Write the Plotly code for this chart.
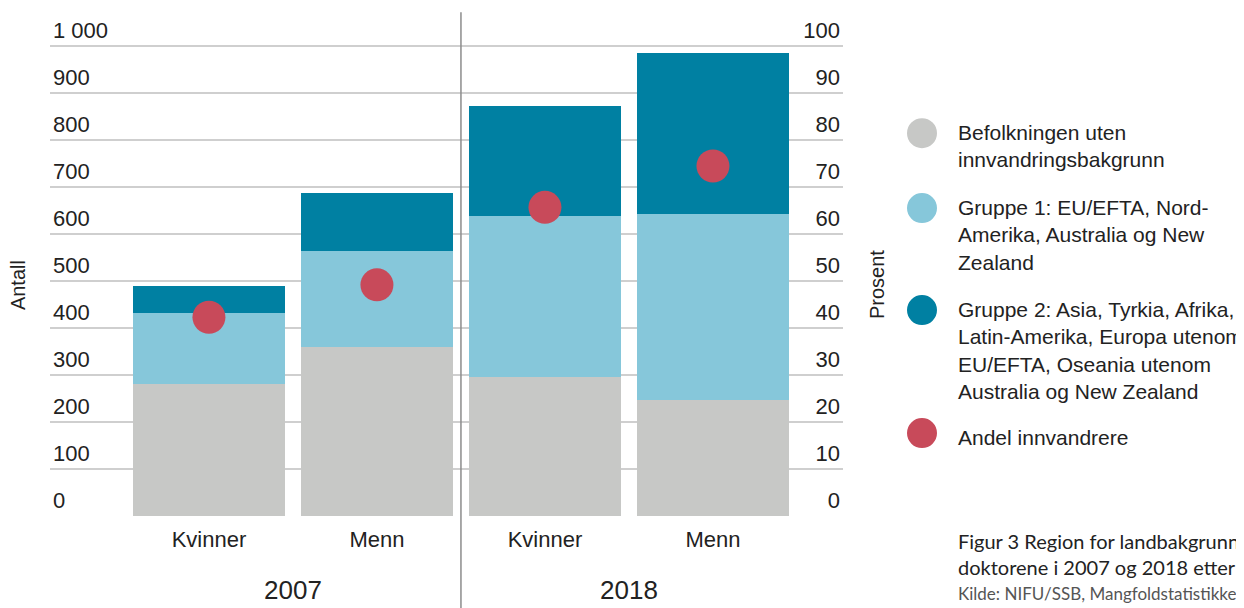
import plotly.graph_objects as go

# data
kjonn = ['Kvinner', 'Menn', 'Kvinner', 'Menn']
aar = ['2007', '2018']
befolkning = [280, 359, 295, 246]
gruppe1 = [153, 206, 343, 396]
gruppe2 = [56, 122, 234, 344]
andel = [42.3, 49.2, 65.7, 74.5]

navn = ['Befolkningen uten<br>innvandringsbakgrunn',
        'Gruppe 1: EU/EFTA, Nord-<br>Amerika, Australia og New<br>Zealand',
        'Gruppe 2: Asia, Tyrkia, Afrika,<br>Latin-Amerika, Europa utenom<br>EU/EFTA, Oseania utenom<br>Australia og New Zealand',
        'Andel innvandrere']
farger = ['#C7C8C6', '#86C7DA', '#0080A2', '#C84A5A']

# siden har 8px body-marg, så alt flyttes 8px opp/venstre
OFF = 8
W, H = 1244, 608
y0px, y1000px = 516 - OFF, 46 - OFF
per = (y0px - y1000px) / 1000.0
ymax = 1060
top = y0px - ymax * per
L = 50 - OFF
T = top
Rpx = 843 - OFF
B = H - y0px
pw, ph = Rpx - L, y0px - top
font = 'Liberation Sans, Arial, sans-serif'


def px(x):
    return (x - OFF - L) / pw


def py(y):
    return (y0px - (y - OFF)) / ph


xs = [0, 1, 2, 3]

fig = go.Figure()
for vals, farge in zip([befolkning, gruppe1, gruppe2], farger[:3]):
    fig.add_trace(go.Bar(x=xs, y=vals, marker=dict(color=farge, line=dict(width=0)),
                         width=0.905, showlegend=False))

fig.add_trace(go.Scatter(x=xs, y=andel, yaxis='y2', mode='markers',
                         marker=dict(color=farger[3], size=33), showlegend=False))

# skillelinje mellom årene
fig.add_shape(type='line', x0=1.5, x1=1.5, xref='x', yref='paper',
              y0=py(H + 8), y1=py(12), line=dict(color='#8c8c8c', width=1.5))

annots = []
for i, a in enumerate(aar):
    annots.append(dict(x=0.5 + 2 * i, y=py(590), xref='x', yref='paper', text=a,
                       showarrow=False, font=dict(size=26, color='#222'), yanchor='middle'))

annots.append(dict(x=px(18), y=py(285), xref='paper', yref='paper', text='Antall',
                   textangle=-90, showarrow=False, xanchor='center', yanchor='middle',
                   font=dict(size=20, color='#222')))
annots.append(dict(x=px(877), y=py(285), xref='paper', yref='paper', text='Prosent',
                   textangle=-90, showarrow=False, xanchor='center', yanchor='middle',
                   font=dict(size=20, color='#222')))

# legende
leg_y = [133, 208, 310, 433]
text_y = [119, 194, 296, 424]
for i in range(4):
    fig.add_shape(type='circle', xref='paper', yref='paper', xsizemode='pixel', ysizemode='pixel',
                  xanchor=px(922), yanchor=py(leg_y[i]), x0=-15, x1=15, y0=-15, y1=15,
                  fillcolor=farger[i], line=dict(width=0))
    annots.append(dict(x=px(956), y=py(text_y[i]), xref='paper', yref='paper', text=navn[i],
                       showarrow=False, xanchor='left', yanchor='top', align='left',
                       font=dict(size=21, color='#222')))

annots.append(dict(x=px(956), y=py(527), xref='paper', yref='paper',
                   text='Figur 3 Region for landbakgrunn blant<br>doktorene i 2007 og 2018 etter kjønn',
                   showarrow=False, xanchor='left', yanchor='top', align='left',
                   font=dict(size=20, color='#222', family='Lato, sans-serif')))
annots.append(dict(x=px(956), y=py(581), xref='paper', yref='paper',
                   text='Kilde: NIFU/SSB, Mangfoldstatistikken',
                   showarrow=False, xanchor='left', yanchor='top', align='left',
                   font=dict(size=17, color='#555', family='Lato, sans-serif')))

fig.update_layout(
    width=W, height=H, barmode='stack',
    margin=dict(l=L, r=W - Rpx, t=T, b=B),
    plot_bgcolor='white', paper_bgcolor='white',
    font=dict(family=font, color='#222'),
    xaxis=dict(range=[-0.946, 3.774], tickvals=xs, ticktext=kjonn, showgrid=False,
               zeroline=False, showline=False, ticks='', ticklabelstandoff=8,
               tickfont=dict(size=22, color='#222')),
    yaxis=dict(range=[0, ymax], tickvals=list(range(0, 1001, 100)), showgrid=True,
               gridcolor='#cfcfcf', gridwidth=1.5,
               zeroline=False, ticklabelposition='inside top', tickfont=dict(size=22, color='#222'),
               tickformat=',d'),
    yaxis2=dict(range=[0, ymax / 10], tickvals=list(range(0, 101, 10)), overlaying='y',
                side='right', showgrid=False,
                zeroline=False, ticklabelposition='inside top', tickfont=dict(size=22, color='#222')),
    separators=', ',
    annotations=annots,
)

fig.write_html('out.html')
